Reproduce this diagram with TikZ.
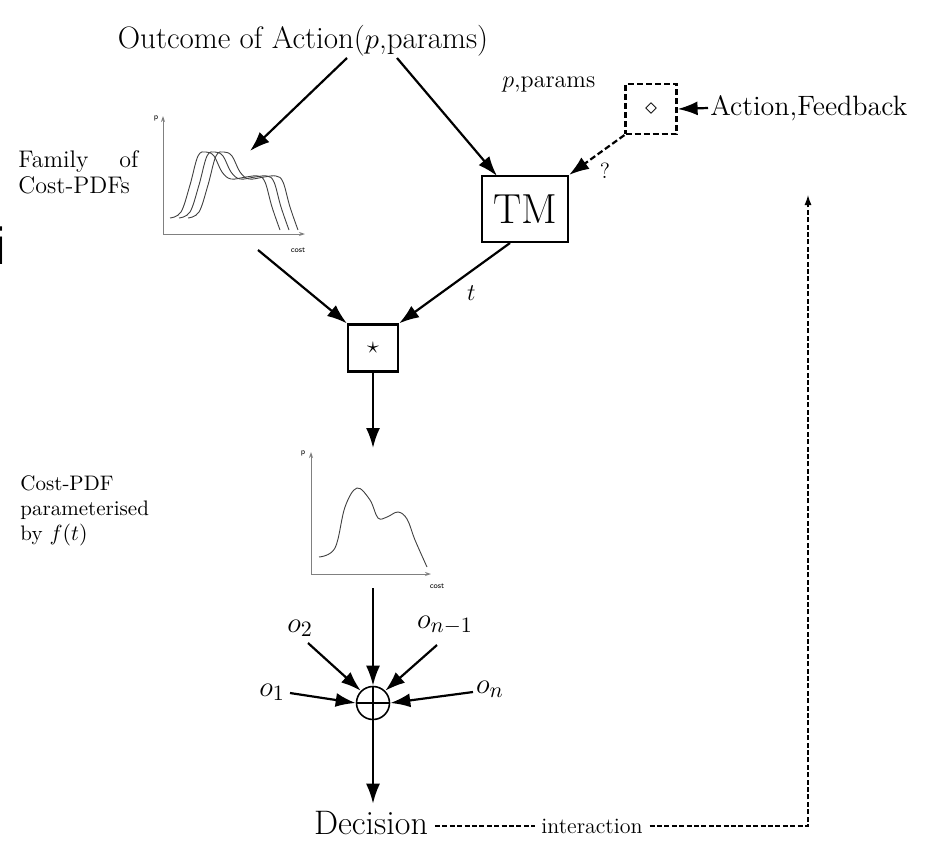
\documentclass[tikz,border=0pt]{standalone}
\usepackage{amsmath}
\usepackage{amssymb}
\usepackage{fontspec}
\newfontfamily\cutfont{Liberation Sans}
\usetikzlibrary{arrows.meta}

\tikzset{
  arr/.style={-{Latex[length=10pt,width=7pt]}, line width=1.1pt},
  dasharr/.style={arr, dash pattern=on 3pt off 1.5pt},
  axis/.style={gray, line width=0.5pt, -{Stealth[length=3pt,width=2pt]}},
  pdfcurve/.style={black!75, line width=0.45pt},
  tinylabel/.style={font=\sffamily\fontsize{4}{5}\selectfont, inner sep=0pt},
  boxnode/.style={draw, line width=1.1pt, minimum width=#1, inner sep=0pt},
  txt/.style={font=\fontsize{12}{14}\selectfont, inner sep=1pt},
  obs/.style={font=\fontsize{15}{18}\selectfont, inner sep=1pt}
}

\begin{document}
\begin{tikzpicture}[x=0.5pt,y=-0.5pt]
\useasboundingbox (0,0) rectangle (930,841);

% texts
\node[font=\fontsize{15.5}{19}\selectfont, anchor=base] (outcome) at (303,48) {Outcome of Action($p$,params)};
\node[txt, anchor=west] (params) at (500,84) {$p$,params};
\node[font=\fontsize{14}{16}\selectfont, inner sep=1pt, anchor=west] (feedback) at (708,108) {Action,Feedback};
\node[font=\fontsize{12}{13}\selectfont, inner sep=0pt, align=justify, text width=60pt, anchor=north west] (family) at (18,150) {Family\hfill of\\Cost-PDFs};
\node[font=\fontsize{10.5}{12.5}\selectfont, inner sep=0pt, align=left, anchor=north west] (costpdf) at (20,475) {Cost-PDF\\parameterised\\by $f(t)$};
\node[font=\fontsize{17}{20}\selectfont, anchor=base] (decision) at (371,834) {Decision};
\node[font=\cutfont\fontsize{26}{30}\selectfont, anchor=east] (cut) at (13,246) {fi};

% boxes
\node[boxnode=43pt, minimum height=33pt, font=\fontsize{21}{24}\selectfont] (tm) at (525,209) {TM};
\node[boxnode=25pt, minimum height=23.5pt, font=\fontsize{13}{15}\selectfont] (star) at (373,348) {$\star$};
\node[boxnode=25.5pt, minimum height=25pt, dash pattern=on 3pt off 1.5pt, font=\fontsize{13}{15}\selectfont] (dia) at (651,109) {$\diamond$};
\node[draw, circle, line width=0.8pt, minimum size=16.5pt, inner sep=0pt] (plus) at (373,703) {};
\draw[line width=0.8pt] (plus.north) -- (plus.south) (plus.west) -- (plus.east);

% family of cost-pdfs
\coordinate (famo) at (163,234);
\draw[axis] (famo) -- (163,116);
\draw[axis] (famo) -- (305,234);
\node[tinylabel] (famp) at (156,118) {p};
\node[tinylabel] (famcost) at (298,250) {cost};
\foreach \s in {0,9,18}
  \draw[pdfcurve, xshift=\s*0.5pt] plot[smooth, tension=0.6] coordinates {(170,218) (181,212) (190,185) (198,156) (206,152) (214,156) (222,172) (231,179) (246,177) (258,176) (265,182) (272,207) (280,230)};

% cost-pdf f(t)
\coordinate (pdfo) at (311,574);
\draw[axis] (pdfo) -- (311,452);
\draw[axis] (pdfo) -- (431,574);
\node[tinylabel] (pdfp) at (303,453) {p};
\node[tinylabel] (pdfcost) at (437,586) {cost};
\draw[pdfcurve] plot[smooth, tension=0.6] coordinates {(319,557) (335,548) (345,507) (357,488) (370,500) (378,518) (387,517) (398,512) (407,519) (415,540) (427,567)};

% observations
\node[obs] (o1) at (272,692) {$o_1$};
\node[obs] (o2) at (300,628) {$o_2$};
\node[obs] (on1) at (445,625) {$o_{n-1}$};
\node[obs] (on) at (490,689) {$o_n$};

% connector ends
\coordinate (outl) at (347,58);
\coordinate (outr) at (397,58);
\coordinate (famin) at (250,151);
\coordinate (famout) at (258,250);
\coordinate (tmin) at (497,176);
\coordinate (tmout) at (510,243);
\coordinate (pdfin) at (373,448);
\coordinate (pdfout) at (373,588);
\coordinate (o2out) at (308,643);
\coordinate (on1out) at (437,645);
\coordinate (o1out) at (290,693);
\coordinate (onout) at (473,692);
\coordinate (corner) at (808,826);
\coordinate (fbin) at (808,195);

% arrows
\draw[arr] (outl) -- (famin);
\draw[arr] (outr) -- (tmin);
\draw[arr] (famout) -- (star.north west);
\draw[arr] (tmout) -- node[pos=0.62, right=9pt, font=\fontsize{13}{15}\selectfont] (t) {$t$} (star.north east);
\draw[dasharr] (dia.south west) -- node[pos=0.55, below right=-1pt, font=\fontsize{11}{13}\selectfont] (q) {?} (tm.north east);
\draw[arr] (feedback.west) -- (dia.east);
\draw[arr] (star.south) -- (pdfin);
\draw[arr] (pdfout) -- (plus.north);
\draw[arr] (o2out) -- (plus.north west);
\draw[arr] (on1out) -- (plus.north east);
\draw[arr] (o1out) -- (plus.west);
\draw[arr] (onout) -- (plus.east);
\draw[arr] (plus.south) -- (plus.south |- decision.north);
\draw[line width=0.6pt, dash pattern=on 2.5pt off 1.2pt, -{Latex[length=5pt,width=3.5pt]}] (decision.east |- corner) -- (corner) -- (fbin);
\node[fill=white, font=\fontsize{11}{13}\selectfont, inner sep=3pt] (inter) at (592,826) {interaction};
\end{tikzpicture}
\end{document}
